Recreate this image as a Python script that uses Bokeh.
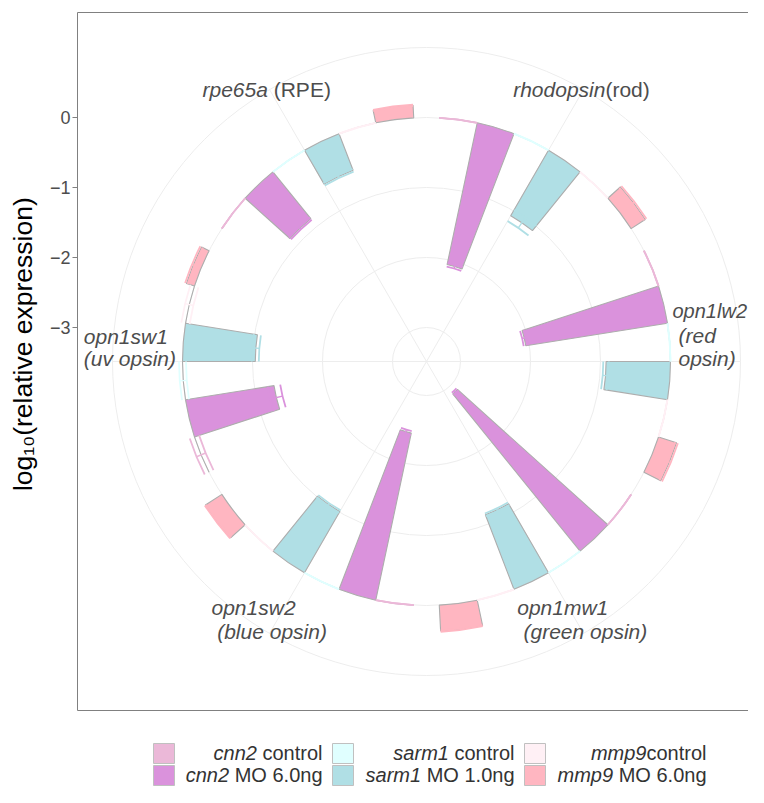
import numpy as np
from bokeh.plotting import figure
from bokeh.models import Range1d, LinearAxis, FixedTicker, ColumnDataSource
from bokeh.layouts import row, column
from bokeh.core.properties import value
from bokeh.embed import file_html
from bokeh.resources import INLINE

# ---------------- data ----------------
genes = ["rhodopsin", "opn1lw2", "opn1mw1", "opn1sw2", "opn1sw1", "rpe65a"]
groups = ["cnn2 control", "cnn2 MO 6.0ng", "sarm1 control",
          "sarm1 MO 1.0ng", "mmp9 control", "mmp9 MO 6.0ng"]

cnn2_control = [0.00, 0.00, 0.00, 0.00, 0.00, 0.00]
cnn2_mo = [-2.07, -2.05, -2.89, -2.44, -1.28, -0.86]
sarm1_control = [0.00, 0.00, 0.00, 0.00, 0.00, 0.00]
sarm1_mo = [-1.08, -0.92, -1.14, -1.01, -1.04, -0.56]
mmp9_control = [0.00, 0.00, 0.00, 0.00, 0.00, 0.00]
mmp9_mo = [0.24, 0.27, 0.37, 0.28, 0.12, 0.18]

cnn2_control_sd = [0.00, 0.00, 0.00, 0.00, 0.07, 0.00]
cnn2_mo_sd = [0.03, 0.03, 0.02, 0.03, 0.09, 0.02]
sarm1_control_sd = [0.00, 0.00, 0.00, 0.00, 0.05, 0.00]
sarm1_mo_sd = [0.09, 0.04, 0.02, 0.02, 0.05, 0.02]
mmp9_control_sd = [0.00, 0.00, 0.00, 0.00, 0.06, 0.00]
mmp9_mo_sd = [0.02, 0.02, 0.01, 0.01, 0.02, 0.01]

r_ticks = [0, -1, -2, -3]
r_tick_labels = ["0", "\u22121", "\u22122", "\u22123"]
r_grid = [1, 0, -1, -2, -3]

legend_gene = ["cnn2", "cnn2", "sarm1", "sarm1", "mmp9", "mmp9"]
legend_rest = [" control", " MO 6.0ng", " control", " MO 1.0ng", "control", " MO 6.0ng"]

title_text = "log\u2081\u2080(relative expression)"

# ---------------- style ----------------
fills = ["#EBB8D8", "#DA92DC", "#E0FFFF", "#B0DFE5", "#FFF0F5", "#FFB6C1"]
BAR_LINE = "#ADADAD"
GRID = "#EDEDED"
BORDER = "#808080"
TXT = "#4D4D4D"
FONT = "Liberation Sans"
TEXT_DY = 7.0   # text glyphs render a little low: lift baselines by this many px

values = [cnn2_control, cnn2_mo, sarm1_control, sarm1_mo, mmp9_control, mmp9_mo]
sds = [cnn2_control_sd, cnn2_mo_sd, sarm1_control_sd, sarm1_mo_sd, mmp9_control_sd, mmp9_mo_sd]

# ---------------- polar scale ----------------
PX = 70.0                 # pixels per log10 unit
V_CENTRE = -244.0 / PX    # value mapped to the centre
def rad(v):
    return np.asarray(v, dtype=float) - V_CENTRE

n_cat = len(genes)
n_grp = len(groups)
dodge = 0.9
bw = dodge / n_grp

def theta(xpos):  # clockwise from 12 o'clock
    return 2 * np.pi * (np.asarray(xpos, dtype=float) - 0.5) / n_cat

def math_angle(th):
    return np.pi / 2 - th

bar = dict(inner=[], outer=[], start=[], end=[], fill=[])
eb = dict(r_lo=[], r_hi=[], start=[], end=[], color=[], x0=[], y0=[], x1=[], y1=[])
for k in range(n_grp):
    for i in range(n_cat):
        xc = i + 1 + (k - (n_grp - 1) / 2) * bw
        th0, th1 = theta(xc - bw / 2), theta(xc + bw / 2)
        v = values[k][i]
        bar["inner"].append(float(rad(min(0.0, v))))
        bar["outer"].append(float(rad(max(0.0, v))))
        bar["start"].append(float(math_angle(th1)))
        bar["end"].append(float(math_angle(th0)))
        bar["fill"].append(fills[k])
        lo, hi = v - sds[k][i], v + sds[k][i]
        am = float(math_angle(theta(xc)))
        eb["r_lo"].append(float(rad(lo)))
        eb["r_hi"].append(float(rad(hi)))
        eb["start"].append(float(math_angle(th1)))
        eb["end"].append(float(math_angle(th0)))
        eb["color"].append(fills[k])
        eb["x0"].append(float(rad(lo)) * np.cos(am))
        eb["y0"].append(float(rad(lo)) * np.sin(am))
        eb["x1"].append(float(rad(hi)) * np.cos(am))
        eb["y1"].append(float(rad(hi)) * np.sin(am))

# ---------------- layout sizes ----------------
TITLE_W = 45
MAIN_W = 748 - TITLE_W
MAIN_H = 712
LEG_H = 787 - MAIN_H
CX, CY = 426.0, 361.0          # centre of the panel (page pixels)
FRAME_L, FRAME_T, FRAME_B = 77, 12, 710
HALF = (CY - FRAME_T) / PX

# ---------------- main polar panel ----------------
p = figure(width=MAIN_W, height=MAIN_H, output_backend="svg", toolbar_location=None,
           x_range=Range1d(-(CX - FRAME_L) / PX, (748 - CX) / PX),
           y_range=Range1d(-HALF, HALF),
           x_axis_location=None, y_axis_location=None,
           min_border_left=FRAME_L - TITLE_W, min_border_right=0,
           min_border_top=FRAME_T, min_border_bottom=MAIN_H - FRAME_B)
p.outline_line_color = None
p.grid.visible = False
p.background_fill_color = "white"
p.border_fill_color = "white"

p.extra_y_ranges = {"val": Range1d(V_CENTRE - HALF, V_CENTRE + HALF)}
yax = LinearAxis(y_range_name="val", ticker=FixedTicker(ticks=r_ticks))
yax.major_label_overrides = dict(zip(r_ticks, r_tick_labels))
yax.major_tick_out = 5
yax.major_tick_in = 0
yax.minor_tick_line_color = None
yax.major_tick_line_color = BORDER
yax.axis_line_color = BORDER
yax.major_label_standoff = 2
yax.major_label_text_font = FONT
yax.major_label_text_font_size = "18px"
yax.major_label_text_color = TXT
p.add_layout(yax, "left")
for loc in ("above", "below"):
    ax = LinearAxis(ticker=FixedTicker(ticks=[]))
    ax.major_tick_out = 0
    ax.major_tick_in = 0
    ax.minor_tick_out = 0
    ax.minor_tick_in = 0
    ax.major_label_standoff = 0
    ax.major_label_text_font_size = "0px"
    ax.axis_line_color = BORDER
    p.add_layout(ax, loc)

# grid circles and spokes
p.circle(x=[0] * len(r_grid), y=[0] * len(r_grid), radius=list(rad(r_grid)),
         fill_color=None, line_color=GRID, line_width=1)
spoke_angles = list(math_angle(theta(np.arange(1, n_cat + 1))))
p.ray(x=[0] * n_cat, y=[0] * n_cat, length=float(rad(max(r_grid))),
      angle=spoke_angles, line_color=GRID, line_width=1)

# bars
p.annular_wedge(x=0, y=0, inner_radius="inner", outer_radius="outer",
                start_angle="start", end_angle="end", fill_color="fill",
                line_color=BAR_LINE, line_width=1.1, source=ColumnDataSource(bar))

# error bars
ebs = ColumnDataSource(eb)
p.arc(x=0, y=0, radius="r_lo", start_angle="start", end_angle="end",
      line_color="color", line_width=1.8, source=ebs)
p.arc(x=0, y=0, radius="r_hi", start_angle="start", end_angle="end",
      line_color="color", line_width=1.8, source=ebs)
p.segment(x0="x0", y0="y0", x1="x1", y1="y1", line_color="color",
          line_width=1.4, source=ebs)

# gene labels (Arial / Liberation Sans advance widths, 1/1000 em)
AW = {' ': 278, '(': 333, ')': 333, '.': 278, 'a': 556, 'b': 556, 'c': 500,
      'd': 556, 'e': 556, 'g': 556, 'h': 556, 'i': 222, 'l': 222, 'm': 833,
      'n': 556, 'o': 556, 'p': 556, 'r': 333, 's': 500, 't': 278, 'u': 556,
      'v': 500, 'w': 722, 'x': 500, 'E': 667, 'M': 833, 'O': 778, 'P': 667,
      'R': 722}
def tw(s, size):
    return sum(AW.get(c, 556) for c in s) * size / 1000.0

def lx(px):
    return (px - CX) / PX
def ly(py):
    return (CY - py) / PX

gene_label_lines = [
    ([("rhodopsin", "italic"), ("(rod)", "normal")], 512.7, 96.0, 21),
    ([("opn1lw2", "italic")], 672.0, 317.7, 20),
    ([("(red", "italic")], 678.0, 341.5, 21),
    ([("opsin)", "italic")], 678.0, 365.2, 21),
    ([("opn1mw1", "italic")], 516.7, 614.3, 21),
    ([("(green opsin)", "italic")], 523.0, 638.0, 21),
    ([("opn1sw2", "italic")], 211.0, 613.8, 21),
    ([("(blue opsin)", "italic")], 216.7, 637.5, 21),
    ([("opn1sw1", "italic")], 83.3, 343.3, 21),
    ([("(uv opsin)", "italic")], 83.3, 365.0, 21),
    ([("rpe65a", "italic"), (" (RPE)", "normal")], 202.0, 96.0, 21),
]
for segs, left, base, fs in gene_label_lines:
    x = left
    for txt, style in segs:
        shown = txt.lstrip(" ")
        x += tw(txt[:len(txt) - len(shown)], fs)
        p.text(x=[lx(x)], y=[ly(base - TEXT_DY)], text=[shown], text_font=value(FONT),
               text_font_size=f"{fs}px", text_font_style=style, text_color=TXT,
               text_align="left", text_baseline="alphabetic")
        x += tw(shown, fs)

# ---------------- y title ----------------
pt = figure(width=TITLE_W, height=MAIN_H, output_backend="svg", toolbar_location=None,
            x_range=Range1d(0, TITLE_W), y_range=Range1d(0, MAIN_H),
            x_axis_location=None, y_axis_location=None, min_border=0)
pt.outline_line_color = None
pt.grid.visible = False
pt.text(x=[28.3 - 6.0], y=[MAIN_H - (343.3 - 5.0)], text=[title_text], angle=np.pi / 2,
        text_font=value(FONT), text_font_size="26.5px", text_color="black",
        text_align="center", text_baseline="middle")

# ---------------- legend ----------------
pl = figure(width=748, height=LEG_H, output_backend="svg", toolbar_location=None,
            x_range=Range1d(0, 748), y_range=Range1d(MAIN_H + LEG_H, MAIN_H),
            x_axis_location=None, y_axis_location=None, min_border=0)
pl.outline_line_color = None
pl.grid.visible = False
key_cx = [163.5, 342.5, 534.5]
text_right = [322.0, 514.0, 706.0]
row_cy = [753.0, 775.0]
row_base = [759.5, 781.5]
LS = 20
for k in range(n_grp):
    c, r = k // 2, k % 2
    pl.rect(x=[key_cx[c]], y=[row_cy[r]], width=21, height=20,
            fill_color=fills[k], line_color="#C0C0C0", line_width=1)
    rest = legend_rest[k]
    shown = rest.lstrip(" ")
    yb = row_base[r] - TEXT_DY
    pl.text(x=[text_right[c]], y=[yb], text=[shown], text_font=value(FONT),
            text_font_size=f"{LS}px", text_color="#333333", text_align="right",
            text_baseline="alphabetic")
    pl.text(x=[text_right[c] - tw(rest, LS)], y=[yb], text=[legend_gene[k]],
            text_font=value(FONT), text_font_size=f"{LS}px", text_font_style="italic",
            text_color="#333333", text_align="right", text_baseline="alphabetic")

layout = column(row(pt, p), pl)
open("out.html", "w").write(file_html(layout, INLINE))
